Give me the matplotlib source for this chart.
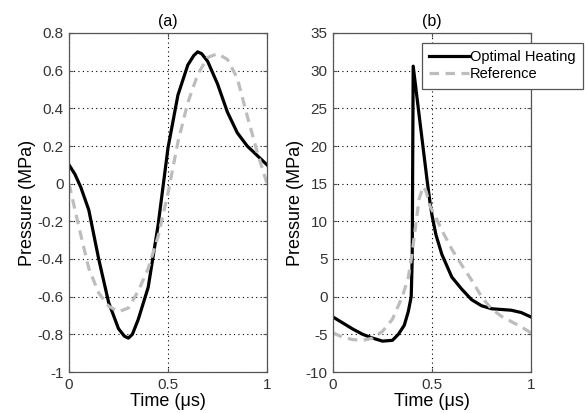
import matplotlib
matplotlib.use("Agg")
import matplotlib.pyplot as plt

plt.rcParams['font.family'] = ['Liberation Sans', 'DejaVu Sans']

# (a) low amplitude pulse
t_a_opt = [0, 0.03, 0.06, 0.1, 0.15, 0.2, 0.25, 0.28, 0.3, 0.32, 0.35, 0.4, 0.45, 0.5,
           0.55, 0.6, 0.63, 0.65, 0.67, 0.7, 0.75, 0.8, 0.85, 0.9, 0.95, 1.0]
p_a_opt = [0.10, 0.05, -0.02, -0.14, -0.40, -0.63, -0.77, -0.81, -0.82, -0.80, -0.72, -0.55, -0.22, 0.19,
           0.47, 0.63, 0.68, 0.70, 0.69, 0.65, 0.53, 0.38, 0.27, 0.20, 0.15, 0.10]
t_a_ref = [0, 0.05, 0.1, 0.15, 0.2, 0.25, 0.3, 0.35, 0.4, 0.45, 0.5,
           0.55, 0.6, 0.65, 0.7, 0.75, 0.8, 0.85, 0.9, 0.95, 1.0]
p_a_ref = [0.0, -0.23, -0.45, -0.58, -0.65, -0.68, -0.66, -0.57, -0.45, -0.28, -0.05,
           0.22, 0.43, 0.58, 0.67, 0.69, 0.66, 0.56, 0.36, 0.17, 0.0]

# (b) high amplitude pulse
t_b_opt = [0, 0.05, 0.1, 0.15, 0.2, 0.25, 0.3, 0.33, 0.36, 0.38, 0.395, 0.40, 0.405,
           0.44, 0.475, 0.49, 0.50, 0.52, 0.55, 0.6, 0.65, 0.7, 0.75, 0.8, 0.85, 0.9, 0.95, 1.0]
p_b_opt = [-2.7, -3.5, -4.3, -5.0, -5.5, -5.9, -5.8, -5.0, -3.8, -2.0, 0.0, 5.0, 30.6,
           23.0, 15.5, 12.5, 10.8, 8.2, 5.6, 2.6, 1.0, -0.4, -1.2, -1.6, -1.7, -1.8, -2.1, -2.7]
t_b_ref = [0, 0.05, 0.1, 0.15, 0.2, 0.25, 0.3, 0.35, 0.38, 0.40, 0.42, 0.435, 0.455,
           0.47, 0.49, 0.52, 0.55, 0.6, 0.65, 0.7, 0.75, 0.8, 0.85, 0.9, 0.95, 1.0]
p_b_ref = [-4.8, -5.4, -5.7, -5.8, -5.5, -4.6, -3.0, 0.0, 2.5, 5.8, 10.0, 13.0, 14.6,
           14.0, 12.0, 10.5, 8.8, 6.3, 4.2, 2.2, 0.0, -1.6, -2.6, -3.3, -4.0, -4.8]

x_ticks = [0, 0.5, 1]
x_labels = ['0', '0.5', '1']
a_ticks = [-1, -0.8, -0.6, -0.4, -0.2, 0, 0.2, 0.4, 0.6, 0.8]
a_labels = ['-1', '-0.8', '-0.6', '-0.4', '-0.2', '0', '0.2', '0.4', '0.6', '0.8']
b_ticks = [-10, -5, 0, 5, 10, 15, 20, 25, 30, 35]
b_labels = ['-10', '-5', '0', '5', '10', '15', '20', '25', '30', '35']

GRAY = '#bdbdbd'

fig = plt.figure(figsize=(5.86, 4.13), dpi=100)
ax1 = fig.add_axes([69/586, 41/413, 198/586, 339/413])
ax2 = fig.add_axes([333/586, 41/413, 198/586, 339/413])


def style(ax, yticks, ylabels, ylim, title):
    ax.set_xlim(0, 1)
    ax.set_ylim(*ylim)
    ax.set_xticks(x_ticks)
    ax.set_xticklabels(x_labels)
    ax.set_yticks(yticks)
    ax.set_yticklabels(ylabels)
    ax.tick_params(direction='in', length=3, top=True, right=True,
                   labelsize=11, labelcolor='#333333', color='#555555', pad=4)
    ax.grid(True, linestyle=(0, (1, 3)), color='black', linewidth=0.8)
    for s in ax.spines.values():
        s.set_color('#555555')
        s.set_linewidth(0.9)
    ax.set_xlabel('Time (\u03bcs)', fontsize=13, labelpad=1)
    ax.set_ylabel('Pressure (MPa)', fontsize=13, labelpad=1)
    ax.set_title(title, fontsize=11.5, pad=5)


ax1.plot(t_a_opt, p_a_opt, color='black', lw=2.3, label='Optimal Heating')
ax1.plot(t_a_ref, p_a_ref, color=GRAY, lw=2.3, dashes=[3, 2], label='Reference')
style(ax1, a_ticks, a_labels, (-1, 0.8), '(a)')

ax2.plot(t_b_opt, p_b_opt, color='black', lw=2.3, label='Optimal Heating')
ax2.plot(t_b_ref, p_b_ref, color=GRAY, lw=2.3, dashes=[3, 2], label='Reference')
style(ax2, b_ticks, b_labels, (-10, 35), '(b)')

leg = ax2.legend(loc='upper left', bbox_to_anchor=(422/586, 1 - 43/413),
                 bbox_transform=fig.transFigure, fontsize=10.5, handlelength=2.7,
                 handletextpad=0.1, borderpad=0.5, labelspacing=0.2,
                 fancybox=False, framealpha=1, edgecolor='#555555', borderaxespad=0)
leg.get_frame().set_linewidth(0.9)

fig.savefig('out.png', dpi=100)
